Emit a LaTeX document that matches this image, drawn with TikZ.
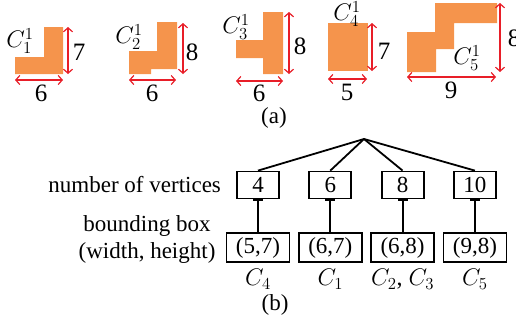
\RequirePackage{fix-cm}
\documentclass[tikz,border=0pt]{standalone}
\usepackage{fontspec}
\setmainfont{Liberation Serif}
\usepackage{tikz}
\usetikzlibrary{arrows.meta,positioning}
\definecolor{blockorange}{RGB}{245,148,76}
\definecolor{dimred}{RGB}{232,30,40}

\begin{document}
\begin{tikzpicture}[
    x=1pt, y=-1pt,
    block/.style={fill=blockorange},
    dim/.style={dimred, line width=1.2pt, {Straight Barb[length=4pt,width=9pt]}-{Straight Barb[length=4pt,width=9pt]}},
    dimlabel/.style={font=\fontsize{25}{28}\selectfont, inner sep=0pt},
    shapename/.style={font=\fontsize{24}{26}\selectfont, inner sep=0pt},
    numbox/.style={draw, line width=1.8pt, minimum width=42pt, minimum height=27pt, inner sep=0pt, font=\fontsize{23}{26}\selectfont},
    bbox/.style={draw, line width=1.8pt, minimum width=63pt, minimum height=29pt, inner sep=0pt, font=\fontsize{23}{26}\selectfont},
    txt/.style={font=\fontsize{23}{27}\selectfont, inner sep=0pt, align=center},
    link/.style={line width=1.8pt}
]
    \useasboundingbox (0,0) rectangle (516,325);

    % (a) the five blocks
    \fill[block] (15,57) -- (44,57) -- (44,27) -- (63,27) -- (63,74) -- (15,74) -- cycle;
    \fill[block] (129,51) -- (157,51) -- (157,22) -- (177,22) -- (177,69) -- (151,69) -- (151,74) -- (129,74) -- cycle;
    \fill[block] (236,40) -- (263,40) -- (263,12) -- (283,12) -- (283,74) -- (263,74) -- (263,58) -- (236,58) -- cycle;
    \fill[block] (328,23) rectangle (368,71);
    \fill[block] (435,3) -- (497,3) -- (497,23) -- (454,23) -- (454,49) -- (436,49) -- (436,72) -- (407,72) -- (407,32) -- (435,32) -- cycle;

    % dimensions
    \draw[dim] (68,27) -- (68,74);
    \draw[dim] (15,80) -- (63,80);
    \draw[dim] (183,23) -- (183,74);
    \draw[dim] (129,80) -- (176,80);
    \draw[dim] (289,12) -- (289,74);
    \draw[dim] (236,81) -- (283,81);
    \draw[dim] (372,23) -- (372,71);
    \draw[dim] (328,79) -- (367,79);
    \draw[dim] (500,3) -- (500,72);
    \draw[dim] (407,77) -- (496,77);

    \node[dimlabel] (h1) at (79,52) {7};
    \node[dimlabel] (w1) at (41,93) {6};
    \node[dimlabel] (h2) at (192,52) {8};
    \node[dimlabel] (w2) at (152,93) {6};
    \node[dimlabel] (h3) at (300,46) {8};
    \node[dimlabel] (w3) at (259,93) {6};
    \node[dimlabel] (h4) at (384,51) {7};
    \node[dimlabel] (w4) at (347,92) {5};
    \node[dimlabel] (h5) at (514,38) {8};
    \node[dimlabel] (w5) at (451,90) {9};

    \node[shapename] (s1) at (20,41) {$C_1^1$};
    \node[shapename] (s2) at (129,37) {$C_2^1$};
    \node[shapename] (s3) at (236,27) {$C_3^1$};
    \node[shapename] (s4) at (347,14) {$C_4^1$};
    \node[shapename] (s5) at (467,58) {$C_5^1$};

    \node[txt] (capa) at (274,118) {(a)};

    % (b) tree
    \coordinate (root) at (364,139);
    \node[numbox] (v4) at (258,185) {4};
    \node[numbox, right=28.5pt of v4] (v6) {6};
    \node[numbox, right=28.5pt of v6] (v8) {8};
    \node[numbox, right=28.5pt of v8] (v10) {10};

    \node[bbox, below=33pt of v4] (b4) {(5,7)};
    \node[bbox, below=33pt of v6] (b6) {(6,7)};
    \node[bbox, below=33pt of v8] (b8) {(6,8)};
    \node[bbox, below=33pt of v10] (b10) {(9,8)};

    \draw[link] (root) -- (v4.north);
    \draw[link] (root) -- (v6.north);
    \draw[link] (root) -- (v8.north);
    \draw[link] (root) -- (v10.north);

    \draw[link] (v4) -- (b4);
    \draw[link] (v6) -- (b6);
    \draw[link] (v8) -- (b8);
    \draw[link] (v10) -- (b10);
    \draw[line width=3pt] ([xshift=-5pt]v4.south) -- ([xshift=5pt]v4.south);
    \draw[line width=3pt] ([xshift=-5pt]v6.south) -- ([xshift=5pt]v6.south);
    \draw[line width=3pt] ([xshift=-5pt]v8.south) -- ([xshift=5pt]v8.south);
    \draw[line width=3pt] ([xshift=-5pt]v10.south) -- ([xshift=5pt]v10.south);

    \node[txt, left=15pt of v4] (nv) {number of vertices};
    \node[txt, left=10pt of b4, yshift=8pt] (bb) {bounding box\\(width, height)};

    \node[shapename, below=6pt of b4] (c4) {$C_4$};
    \node[shapename, below=6pt of b6] (c1) {$C_1$};
    \node[shapename, below=6pt of b8] (c23) {$C_2$, $C_3$};
    \node[shapename, below=6pt of b10] (c5) {$C_5$};

    \node[txt] (capb) at (275,305) {(b)};
\end{tikzpicture}
\end{document}
